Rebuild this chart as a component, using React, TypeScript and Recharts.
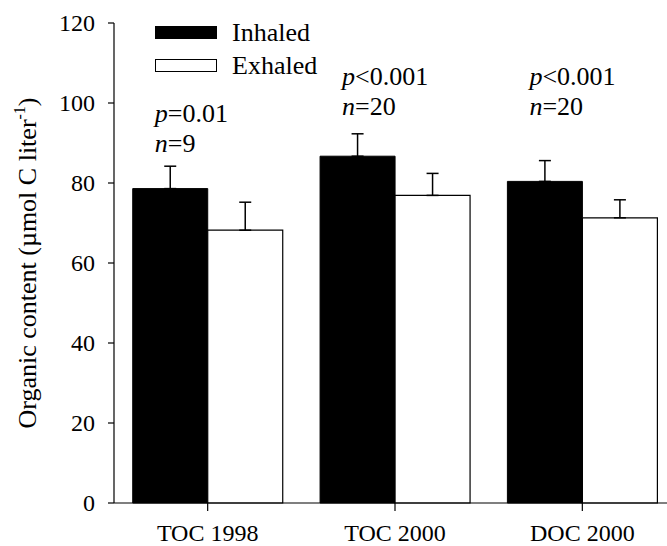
import { BarChart, Bar, XAxis, YAxis, ErrorBar, LabelList, Legend } from 'recharts'

const categories = ['TOC 1998', 'TOC 2000', 'DOC 2000']
const inhaled = [78.6, 86.7, 80.4]
const inhaledErr = [5.6, 5.6, 5.2]
const exhaled = [68.2, 76.9, 71.3]
const exhaledErr = [7.0, 5.5, 4.5]
const pLabels = ['=0.01', '<0.001', '<0.001']
const nLabels = ['=9', '=20', '=20']
// height (in data units) of the p-value line above each group
const annotationLevel = [95.3, 104.5, 104.5]
const yTicks = [0, 20, 40, 60, 80, 100, 120]

const data = categories.map((name, i) => ({
  name,
  inhaled: inhaled[i],
  inhaledErr: [0, inhaledErr[i]],
  exhaled: exhaled[i],
  exhaledErr: [0, exhaledErr[i]],
}))

const FONT = 'Liberation Serif'

function Annotation(props: any) {
  const { x, y, height, value, index } = props
  const ppu = height / value
  const base = y + height - annotationLevel[index] * ppu
  const tx = x + 22
  return (
    <text x={tx} y={base} fill="#000" style={{ fontFamily: FONT, fontSize: 26 }}>
      <tspan fontStyle="italic">p</tspan>
      <tspan>{pLabels[index]}</tspan>
      <tspan x={tx} dy={30} fontStyle="italic">n</tspan>
      <tspan>{nLabels[index]}</tspan>
    </text>
  )
}

function YLabel(props: any) {
  const { viewBox } = props
  const cx = 36
  const cy = viewBox.y + viewBox.height / 2
  return (
    <text
      x={cx}
      y={cy}
      transform={`rotate(-90, ${cx}, ${cy})`}
      textAnchor="middle"
      fill="#000"
      style={{ fontFamily: FONT, fontSize: 26 }}
    >
      Organic content (µmol C liter
      <tspan fontSize={16} dy={-11}>-1</tspan>
      <tspan dy={11}>)</tspan>
    </text>
  )
}

function XTick(props: any) {
  const { x, y, payload } = props
  return (
    <text x={x} y={y} dy={18} textAnchor="middle" fill="#000" style={{ fontFamily: FONT, fontSize: 24 }}>
      {payload.value}
    </text>
  )
}

function YTick(props: any) {
  const { x, y, payload } = props
  return (
    <text x={x} y={y} dy={8} textAnchor="end" fill="#000" style={{ fontFamily: FONT, fontSize: 24 }}>
      {payload.value}
    </text>
  )
}

function LegendBox() {
  const rows = [
    { label: 'Inhaled', fill: '#000' },
    { label: 'Exhaled', fill: '#fff' },
  ]
  return (
    <div style={{ fontFamily: FONT, fontSize: 26, color: '#000' }}>
      {rows.map((r) => (
        <div key={r.label} style={{ display: 'flex', alignItems: 'center', height: 33 }}>
          <svg width={63} height={14} style={{ display: 'block' }}>
            <rect x={0.5} y={0.5} width={61} height={12} fill={r.fill} stroke="#000" strokeWidth={1} />
          </svg>
          <span style={{ marginLeft: 14, lineHeight: '33px' }}>{r.label}</span>
        </div>
      ))}
    </div>
  )
}

export default function App() {
  return (
    <div
      style={{
        position: 'absolute',
        left: 0,
        top: 0,
        width: 667,
        height: 546,
        overflow: 'hidden',
        background: '#fff',
        fontFamily: FONT,
      }}
    >
      <BarChart
        width={680}
        height={546}
        data={data}
        margin={{ top: 23, right: 4, left: 0, bottom: 0 }}
        barCategoryGap="10%"
        barGap={0}
      >
        <XAxis
          dataKey="name"
          height={43}
          tickSize={8}
          tickMargin={12}
          axisLine={{ stroke: '#000', strokeWidth: 1.2 }}
          tickLine={{ stroke: '#000', strokeWidth: 1.2 }}
          tick={<XTick />}
        />
        <YAxis
          width={114}
          domain={[0, 120]}
          ticks={yTicks}
          tickSize={6}
          tickMargin={13}
          axisLine={{ stroke: '#000', strokeWidth: 1.2 }}
          tickLine={{ stroke: '#000', strokeWidth: 1.2 }}
          tick={<YTick />}
          label={<YLabel />}
        />
        <Legend
          layout="vertical"
          verticalAlign="middle"
          align="center"
          wrapperStyle={{ top: 16, left: 155, width: 'auto' }}
          content={<LegendBox />}
        />
        <Bar dataKey="inhaled" fill="#000" stroke="#000" strokeWidth={1} isAnimationActive={false}>
          <ErrorBar dataKey="inhaledErr" width={6} stroke="#000" strokeWidth={1.5} direction="y" />
          <LabelList dataKey="inhaled" content={<Annotation />} />
        </Bar>
        <Bar dataKey="exhaled" fill="#fff" stroke="#000" strokeWidth={1.2} isAnimationActive={false}>
          <ErrorBar dataKey="exhaledErr" width={6} stroke="#000" strokeWidth={1.5} direction="y" />
        </Bar>
      </BarChart>
    </div>
  )
}
